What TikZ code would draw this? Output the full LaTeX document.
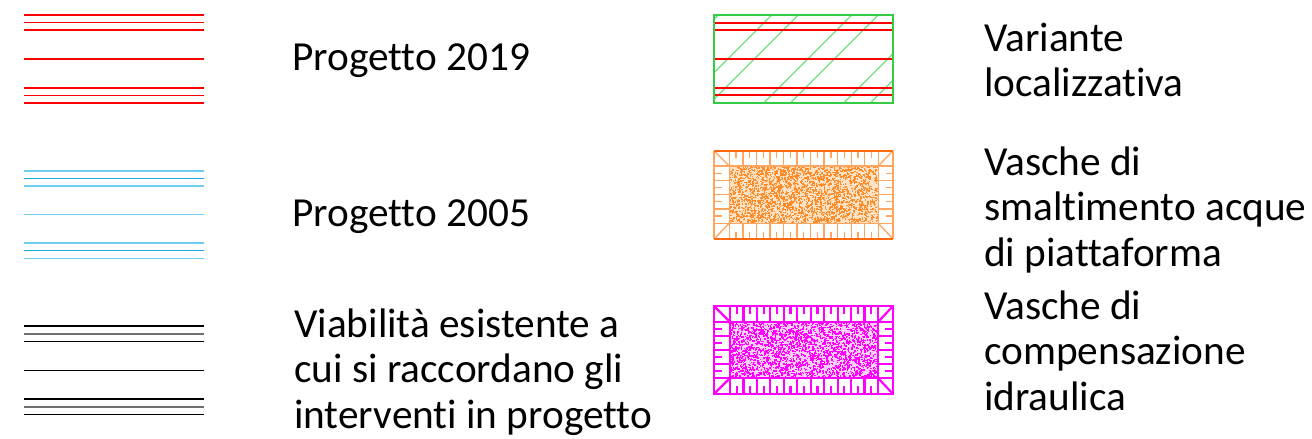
\documentclass[tikz,border=0pt]{standalone}
\usepackage{fontspec}
\setmainfont[Ligatures=NoCommon,RawFeature={-liga;-clig;-dlig}]{Carlito}
\definecolor{rd}{HTML}{FF0000}
\definecolor{bllight}{HTML}{6FCDF0}
\definecolor{bldark}{HTML}{1AA8E0}
\definecolor{grayln}{HTML}{707070}
\definecolor{grborder}{HTML}{33CC44}
\definecolor{grhatch}{HTML}{6EE07E}
\definecolor{orborder}{HTML}{FF6A10}
\definecolor{ortick}{HTML}{FFA560}
\definecolor{ordot}{HTML}{FF8C2A}
\definecolor{orbg}{HTML}{FFE2C4}
\definecolor{mg}{HTML}{FF00FF}
\definecolor{mgbg}{HTML}{FFD0FF}
\begin{document}
\begin{tikzpicture}[x=1pt,y=-1pt,
  lbl/.style={anchor=base west, inner sep=0pt, font=\fontsize{41.3}{45.5}\selectfont},
  redln/.style={draw=rd, line width=1.7pt},
  blueout/.style={draw=bllight, line width=1.6pt},
  bluemid/.style={draw=bldark, line width=1.1pt},
  blackln/.style={draw=black, line width=1.2pt},
  graymid/.style={draw=grayln, line width=1.8pt},
  hatchln/.style={draw=grhatch, line width=1.3pt},
  ortk/.style={draw=ortick, line width=1.3pt},
  mgtk/.style={draw=mg, line width=2.2pt}]
\useasboundingbox (0,0) rectangle (1312,439);
% ---- Progetto 2019
\foreach \y in {15,22.6,30.2,59,87.8,95.4,103}
  \draw[redln] (24,\y) -- (204,\y);
% ---- Progetto 2005
\foreach \y in {170.7,185.9,214.5,243.1,258.3}
  \draw[blueout] (24,\y) -- (204,\y);
\foreach \y in {178.3,250.7}
  \draw[bluemid] (24,\y) -- (204,\y);
% ---- Viabilita esistente
\foreach \y in {326,341.3,370.3,399,414.3}
  \draw[blackln] (24,\y) -- (204,\y);
\foreach \y in {333.7,406.7}
  \draw[graymid] (24,\y) -- (204,\y);
% ---- Variante localizzativa
\begin{scope}
  \clip (714,15) rectangle (892.7,102.7);
  \foreach \c in {733.3,813.3,893.3,973.3,786.7,866.7,946.7}
    \draw[hatchln] (\c-130,130) -- (\c,0);
\end{scope}
\foreach \y in {22.7,30.3,59,87.7,95.3}
  \draw[redln] (714,\y) -- (892.7,\y);
\draw[draw=grborder, line width=2.2pt] (714,15) rectangle (892.7,102.7);
% ---- Vasche di smaltimento (orange)
\fill[orbg] (729.3,166) rectangle (878.3,223.3);
\pgfmathsetseed{7}
\foreach \i in {1,...,2600}{
  \pgfmathsetmacro\px{729.3+147.8*rnd}
  \pgfmathsetmacro\py{166+56*rnd}
  \fill[ordot] (\px,\py) rectangle ++(1.4,1.4);
}
\foreach \k in {0,...,11}{
  \draw[ortk] (729.3+\k*13.545,150.7) -- (729.3+\k*13.545,166);
  \draw[ortk] (729.3+\k*13.545,223.3) -- (729.3+\k*13.545,239);
}
\foreach \k in {0,...,10}{
  \draw[ortk] (729.3+\k*13.545+6.77,150.7) -- ++(0,7.5);
  \draw[ortk] (729.3+\k*13.545+6.77,239) -- ++(0,-7.5);
}
\foreach \k in {0,...,4}{
  \draw[ortk] (714,166+\k*14.325) -- (729.3,166+\k*14.325);
  \draw[ortk] (878.3,166+\k*14.325) -- (893,166+\k*14.325);
}
\foreach \k in {0,...,3}{
  \draw[ortk] (714,166+\k*14.325+7.16) -- ++(7.5,0);
  \draw[ortk] (893,166+\k*14.325+7.16) -- ++(-7.5,0);
}
\draw[ortk] (714,150.7) -- (729.3,166) (893,150.7) -- (878.3,166)
  (714,239) -- (729.3,223.3) (893,239) -- (878.3,223.3);
\draw[ortk] (729.3,166) rectangle (878.3,223.3);
\draw[draw=ortick, line width=1.4pt] (714,150.7) -- (714,239) (893,150.7) -- (893,239);
\draw[draw=orborder, line width=2.2pt] (714,150.7) -- (893,150.7) (714,239) -- (893,239);
% ---- Vasche di compensazione (magenta)
\fill[mgbg] (730,322) rectangle (878,378);
\pgfmathsetseed{11}
\foreach \i in {1,...,2600}{
  \pgfmathsetmacro\px{730+146.6*rnd}
  \pgfmathsetmacro\py{322+54.6*rnd}
  \fill[mg] (\px,\py) rectangle ++(1.4,1.4);
}
\foreach \k in {0,...,11}{
  \draw[mgtk] (730+\k*13.4545,306) -- (730+\k*13.4545,322);
  \draw[mgtk] (730+\k*13.4545,378) -- (730+\k*13.4545,394);
}
\foreach \k in {0,...,10}{
  \draw[mgtk] (730+\k*13.4545+6.73,306) -- ++(0,8);
  \draw[mgtk] (730+\k*13.4545+6.73,394) -- ++(0,-8);
}
\foreach \k in {0,...,4}{
  \draw[mgtk] (714,322+\k*14) -- (730,322+\k*14);
  \draw[mgtk] (878,322+\k*14) -- (893,322+\k*14);
}
\foreach \k in {0,...,3}{
  \draw[mgtk] (714,322+\k*14+7) -- ++(8,0);
  \draw[mgtk] (893,322+\k*14+7) -- ++(-8,0);
}
\draw[mgtk] (714,306) -- (730,322) (893,306) -- (878,322)
  (714,394) -- (730,378) (893,394) -- (878,378);
\draw[mgtk] (730,322) rectangle (878,378);
\draw[draw=mg, line width=2.4pt] (714,306) rectangle (893,394);
% ---- Labels
\node[lbl] (t2019) at (292,70) {Progetto 2019};
\node[lbl] (t2005) at (292,226) {Progetto 2005};
\node[lbl] (tv1) at (294,337) {Viabilità esistente a};
\node[lbl] (tv2) at (294,382.5) {cui si raccordano gli};
\node[lbl] (tv3) at (294,428) {interventi in progetto};
\node[lbl] (tva1) at (984,51) {Variante};
\node[lbl] (tva2) at (984,96.6) {localizzativa};
\node[lbl] (tsm1) at (984,175) {Vasche di};
\node[lbl] (tsm2) at (984,220.5) {smaltimento acque};
\node[lbl] (tsm3) at (984,266) {di piattaforma};
\node[lbl] (tco1) at (984,319) {Vasche di};
\node[lbl] (tco2) at (984,364.5) {compensazione};
\node[lbl] (tco3) at (984,410) {idraulica};
\end{tikzpicture}
\end{document}
